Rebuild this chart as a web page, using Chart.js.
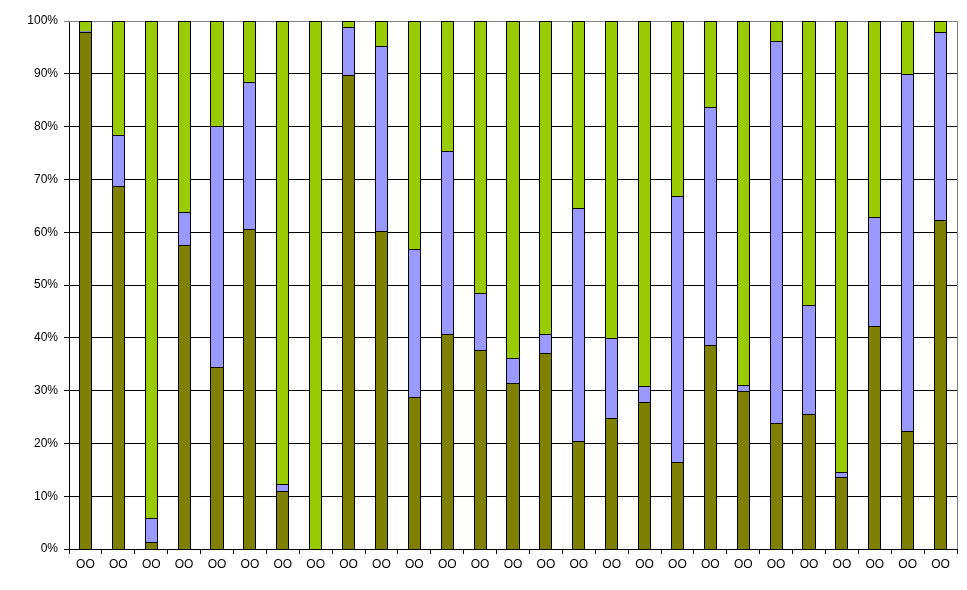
<!DOCTYPE html>
<html>
<head>
<meta charset="utf-8">
<script src="https://cdn.jsdelivr.net/npm/chart.js@4/dist/chart.umd.min.js"></script>
<style>
  html, body { margin: 0; padding: 0; background: #ffffff; }
  #wrap { width: 967px; height: 590px; }
</style>
</head>
<body>
<div id="wrap"><canvas id="c" width="967" height="590"></canvas></div>
<script>
const categories = ["OO","OO","OO","OO","OO","OO","OO","OO","OO","OO","OO","OO","OO","OO","OO","OO","OO","OO","OO","OO","OO","OO","OO","OO","OO","OO","OO"];
const seriesOlive = [97.9, 68.7, 1.3, 57.5, 34.4, 60.7, 10.9, 0, 89.7, 60.2, 28.7, 40.8, 37.6, 31.4, 37.2, 20.4, 24.8, 27.8, 16.4, 38.6, 29.9, 23.8, 25.5, 13.7, 42.2, 22.3, 62.4];
const seriesBlue  = [0.3, 9.8, 4.5, 6.3, 45.8, 27.7, 1.35, 0, 9.1, 35.0, 28.2, 34.5, 10.8, 4.7, 3.6, 44.1, 15.1, 3.0, 50.4, 45.1, 1.1, 72.5, 20.8, 0.8, 20.6, 67.6, 35.5];
const seriesGreen = [1.8, 21.5, 94.2, 36.2, 19.8, 11.6, 87.75, 100, 1.2, 4.8, 43.1, 24.7, 51.6, 63.9, 59.2, 35.5, 60.1, 69.2, 33.2, 16.3, 69.0, 3.7, 53.7, 85.5, 37.2, 10.1, 2.1];
const yTickValues = [0, 10, 20, 30, 40, 50, 60, 70, 80, 90, 100];

const FONT = 'Arial, "Liberation Sans", sans-serif';

// gray frame on top and right of the plot area (drawn under the bars)
const frame = {
  id: 'frame',
  beforeDatasetsDraw(chart) {
    const {ctx, chartArea: a} = chart;
    ctx.save();
    ctx.strokeStyle = '#808080';
    ctx.lineWidth = 1;
    ctx.beginPath();
    ctx.moveTo(a.left, Math.round(a.top) + 0.5);
    ctx.lineTo(Math.round(a.right) + 0.5, Math.round(a.top) + 0.5);
    ctx.lineTo(Math.round(a.right) + 0.5, a.bottom);
    ctx.stroke();
    ctx.restore();
  }
};

// snap the library-computed bar rectangles to whole pixels for crisp borders
const snap = {
  id: 'snap',
  beforeDatasetsDraw(chart) {
    chart.data.datasets.forEach((d, i) => {
      const meta = chart.getDatasetMeta(i);
      meta.data.forEach(el => {
        const l = Math.round(el.x - el.width / 2);
        const r = Math.round(el.x + el.width / 2);
        el.x = (l + r) / 2;
        el.width = r - l;
        el.y = Math.round(el.y);
        el.base = Math.round(el.base);
      });
    });
  }
};

function ds(label, data, color) {
  return {
    label, data,
    backgroundColor: color,
    borderColor: '#000000',
    borderWidth: 1,
    borderSkipped: 'start',
    inflateAmount: 0,
    barPercentage: 0.4,
    categoryPercentage: 1.0
  };
}

new Chart(document.getElementById('c'), {
  type: 'bar',
  data: {
    labels: categories,
    datasets: [
      ds('A', seriesOlive, '#808000'),
      ds('B', seriesBlue, '#9999FF'),
      ds('C', seriesGreen, '#99CC00')
    ]
  },
  options: {
    responsive: false,
    animation: false,
    devicePixelRatio: 1,
    layout: { padding: { top: 21, right: 10, left: 0, bottom: 0 } },
    plugins: { legend: { display: false }, tooltip: { enabled: false } },
    scales: {
      x: {
        stacked: true,
        afterFit(s) { s.height = 41; },
        grid: {
          offset: true,
          drawOnChartArea: false,
          drawTicks: true,
          tickLength: 5,
          color: '#000000'
        },
        border: { color: '#000000', width: 1 },
        ticks: { color: '#000000', font: { family: FONT, size: 12 }, padding: 3, maxRotation: 0, autoSkip: false }
      },
      y: {
        stacked: true,
        min: 0, max: 100,
        afterFit(s) { s.width = 69; },
        afterBuildTicks(s) { s.ticks = yTickValues.map(v => ({ value: v })); },
        grid: {
          color: ctx => (ctx.tick && ctx.tick.value === 100) ? '#808080' : '#000000',
          drawTicks: true,
          tickLength: 5
        },
        border: { color: '#000000', width: 1 },
        ticks: {
          color: '#000000',
          font: { family: FONT, size: 12 },
          padding: 6,
          callback: v => v + '%'
        }
      }
    }
  },
  plugins: [frame, snap]
});
</script>
</body>
</html>
